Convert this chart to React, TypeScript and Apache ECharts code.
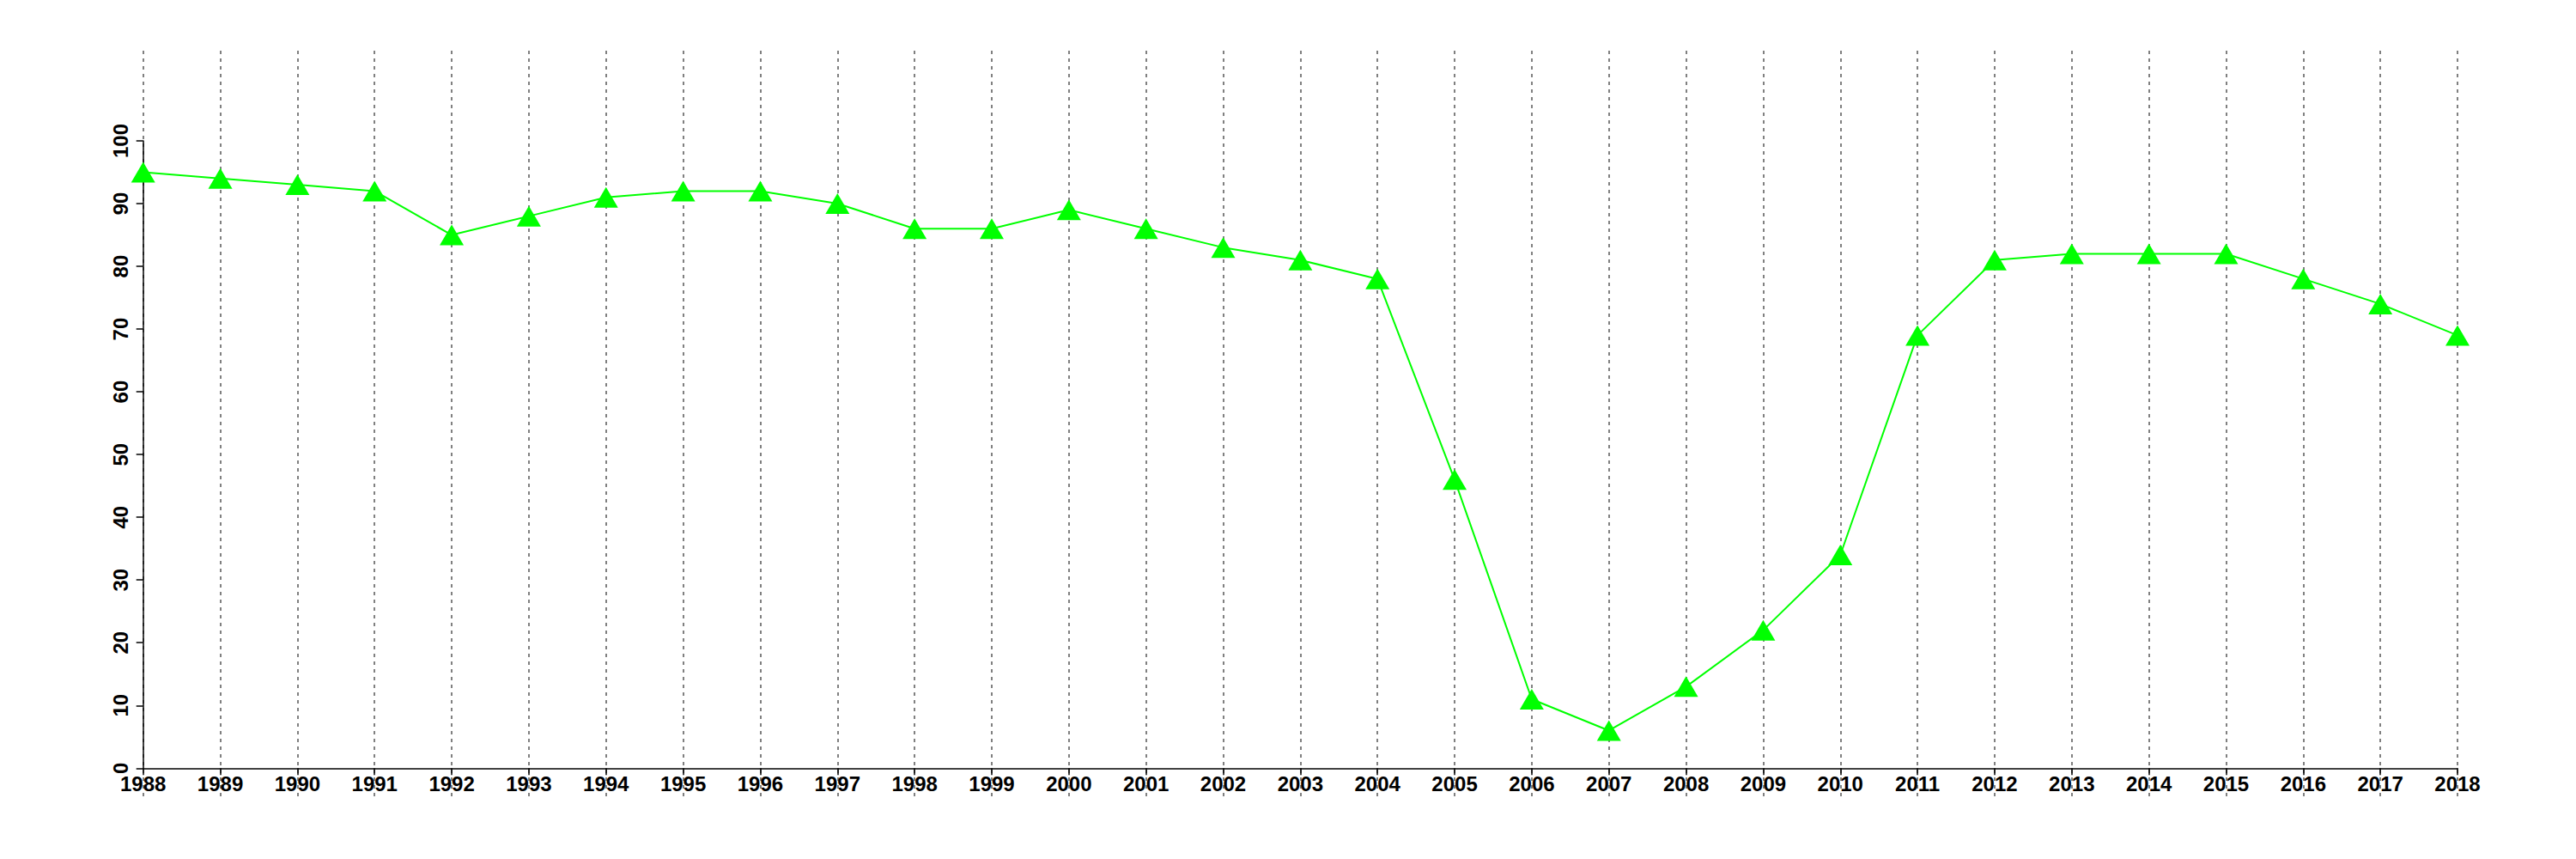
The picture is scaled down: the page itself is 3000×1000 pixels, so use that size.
import React, { useEffect, useRef } from "react";
import * as echarts from "echarts";

const years = [
  "1988", "1989", "1990", "1991", "1992", "1993", "1994", "1995", "1996", "1997",
  "1998", "1999", "2000", "2001", "2002", "2003", "2004", "2005", "2006", "2007",
  "2008", "2009", "2010", "2011", "2012", "2013", "2014", "2015", "2016", "2017", "2018",
];
const values = [
  95, 94, 93, 92, 85, 88, 91, 92, 92, 90,
  86, 86, 89, 86, 83, 81, 78, 46, 11, 6,
  13, 22, 34, 69, 81, 82, 82, 82, 78, 74, 69,
];
const yMin = 0;
const yMax = 100;
const yStep = 10;

export default function App() {
  const ref = useRef<HTMLDivElement>(null);
  useEffect(() => {
    if (!ref.current) return;
    const chart = echarts.init(ref.current, undefined, { renderer: "svg" });
    const font = "'Liberation Sans', Arial, Helvetica, sans-serif";
    chart.setOption({
      animation: false,
      backgroundColor: "#ffffff",
      grid: [
        { left: 166.7, right: 138, top: 164, bottom: 105.7 },
        { left: 166.7, right: 138, top: 59, bottom: 73 },
      ],
      xAxis: [
        {
          type: "category",
          gridIndex: 0,
          data: years,
          boundaryGap: false,
          axisLine: { show: true, lineStyle: { color: "#000", width: 1.5 } },
          axisTick: { show: true, length: 8, lineStyle: { color: "#000", width: 1.5 } },
          axisLabel: {
            show: true,
            interval: 0,
            margin: 6,
            color: "#000",
            fontFamily: font,
            fontWeight: "bold",
            fontSize: 24,
          },
          splitLine: { show: false },
        },
        {
          type: "category",
          gridIndex: 1,
          data: years,
          boundaryGap: false,
          axisLine: { show: false },
          axisTick: { show: false },
          axisLabel: { show: false },
          splitLine: {
            show: true,
            interval: 0,
            lineStyle: { color: "#808080", width: 2, type: [4, 5] },
          },
        },
      ],
      yAxis: [
        {
          type: "value",
          gridIndex: 0,
          min: yMin,
          max: yMax,
          interval: yStep,
          axisLine: { show: true, lineStyle: { color: "#000", width: 1.5 } },
          axisTick: { show: true, length: 8, lineStyle: { color: "#000", width: 1.5 } },
          axisLabel: {
            show: true,
            rotate: 90,
            margin: 14,
            color: "#000",
            fontFamily: font,
            fontWeight: "bold",
            fontSize: 24,
          },
          splitLine: { show: false },
        },
        {
          type: "value",
          gridIndex: 1,
          min: 0,
          max: 1,
          show: false,
        },
      ],
      series: [
        {
          type: "line",
          xAxisIndex: 0,
          yAxisIndex: 0,
          data: values,
          symbol: "triangle",
          symbolSize: [28, 24],
          showAllSymbol: true,
          lineStyle: { color: "#00ff00", width: 2 },
          itemStyle: { color: "#00ff00" },
          z: 3,
        },
      ],
    });
    return () => chart.dispose();
  }, []);
  return (
    <div
      ref={ref}
      style={{ position: "fixed", left: 0, top: 0, width: 3000, height: 1000 }}
    />
  );
}
